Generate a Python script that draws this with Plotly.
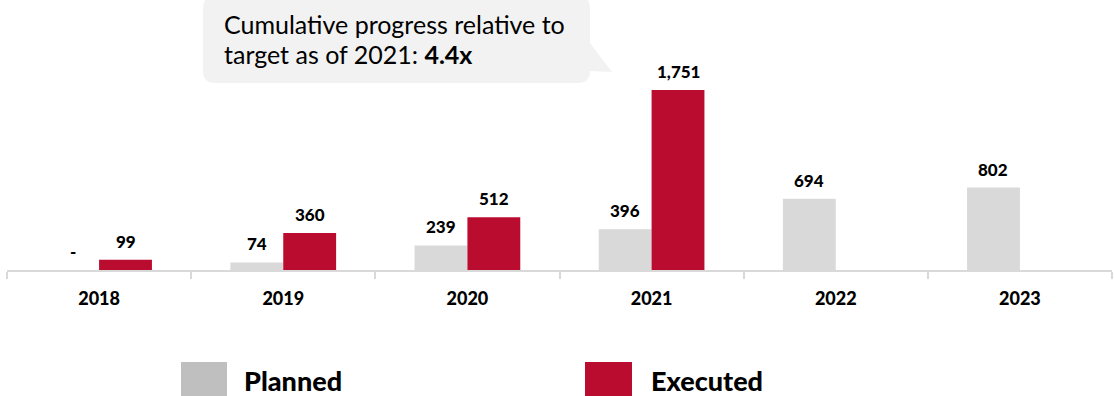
import plotly.graph_objects as go

# Data
years = ["2018", "2019", "2020", "2021", "2022", "2023"]
planned = [0, 74, 239, 396, 694, 802]
executed = [99, 360, 512, 1751, None, None]
planned_labels = ["-", "74", "239", "396", "694", "802"]
executed_labels = ["99", "360", "512", "1,751", None, None]
callout_lines = ["Cumulative progress relative to", "target as of 2021: <b>4.4x</b>"]
legend_names = ["Planned", "Executed"]

# Styling
W, H = 1115, 396
ML, MR, MT, MB = 7, 3, 90, 126
PLANNED_BAR = "#d9d9d9"
PLANNED_KEY = "#bfbfbf"
EXECUTED = "#ba0c2f"
AXIS = "#d9d9d9"
FONT = "Lato"
HEAVY = 900
BW = 0.287  # bar width in category units

plot_w = W - ML - MR
plot_h = H - MT - MB


def px(x):
    return (x - ML) / plot_w


def py(y):
    return (H - MB - y) / plot_h


fig = go.Figure()
fig.add_trace(go.Bar(
    x=years, y=planned, width=BW, offset=-BW,
    marker=dict(color=PLANNED_BAR, line=dict(width=0)),
    name=legend_names[0], showlegend=False, hoverinfo="skip",
))
fig.add_trace(go.Bar(
    x=years, y=executed, width=BW, offset=0,
    marker=dict(color=EXECUTED, line=dict(width=0)),
    name=legend_names[1], showlegend=False, hoverinfo="skip",
))

value_font = dict(family=FONT, size=17, color="#000000", weight=HEAVY)
annotations = []
for i, (v, lab) in enumerate(zip(planned, planned_labels)):
    annotations.append(dict(
        x=i - BW / 2, y=v, xref="x", yref="y", text=lab,
        showarrow=False, yanchor="bottom", yshift=6, font=value_font,
    ))
for i, (v, lab) in enumerate(zip(executed, executed_labels)):
    if v is None:
        continue
    annotations.append(dict(
        x=i + BW / 2, y=v, xref="x", yref="y", text=lab,
        showarrow=False, yanchor="bottom", yshift=6, font=value_font,
    ))

# Callout bubble with a tail pointing towards the 2021 bars
L, R, T, B, r = 203, 590, -4, 83, 12
pts = [
    ("M", (L + r, T)), ("L", (R - r, T)), ("Q", (R, T), (R, T + r)),
    ("L", (R, 43)), ("L", (612, 72)), ("L", (R, 71)),
    ("Q", (R, B), (R - r, B)), ("L", (L + r, B)), ("Q", (L, B), (L, B - r)),
    ("L", (L, T + r)), ("Q", (L, T), (L + r, T)),
]
path = ""
for cmd, *coords in pts:
    path += cmd + " ".join(f"{px(a):.5f},{py(b):.5f}" for a, b in coords) + " "
path += "Z"

shapes = [dict(type="path", path=path, xref="paper", yref="paper",
               fillcolor="#f2f2f2", line=dict(width=0), layer="below")]

for line, yc in zip(callout_lines, [24, 54]):
    annotations.append(dict(
        x=px(222), y=py(yc), xref="paper", yref="paper", xanchor="left",
        yanchor="middle", align="left", showarrow=False, text=line,
        font=dict(family=FONT, size=25, color="#000000"),
    ))

# Legend keys
for (x0, x1), color, name, tx in [((181, 227), PLANNED_KEY, legend_names[0], 242),
                                  ((585, 632), EXECUTED, legend_names[1], 649)]:
    shapes.append(dict(type="rect", xref="paper", yref="paper",
                       x0=px(x0), x1=px(x1), y0=py(362), y1=py(400),
                       fillcolor=color, line=dict(width=0)))
    annotations.append(dict(
        x=px(tx), y=py(380), xref="paper", yref="paper", xanchor="left",
        yanchor="middle", showarrow=False, text=name,
        font=dict(family=FONT, size=27, color="#000000", weight=HEAVY),
    ))

fig.update_layout(
    width=W, height=H,
    margin=dict(l=ML, r=MR, t=MT, b=MB, pad=0),
    paper_bgcolor="white", plot_bgcolor="white",
    barmode="overlay", showlegend=False,
    annotations=annotations, shapes=shapes,
    xaxis=dict(
        type="category", range=[-0.5, 5.5], tickson="boundaries",
        showline=True, linecolor=AXIS, linewidth=2,
        ticks="outside", ticklen=7, tickwidth=2, tickcolor=AXIS,
        ticklabelstandoff=11,
        tickfont=dict(family=FONT, size=18, color="#000000", weight=HEAVY),
        showgrid=False, zeroline=False, fixedrange=True,
    ),
    yaxis=dict(range=[0, 1751], visible=False, showgrid=False,
               zeroline=False, fixedrange=True),
)

fig.write_html("out.html", config={"displayModeBar": False})
